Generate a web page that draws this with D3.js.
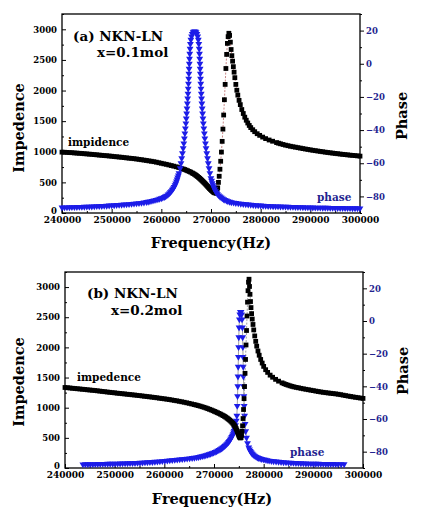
<!DOCTYPE html>
<html>
<head>
<meta charset="utf-8">
<script src="https://cdn.jsdelivr.net/npm/d3@7"></script>
<style>
  body { margin: 0; background: #fff; }
  text { font-family: "DejaVu Serif", serif; font-weight: bold; }
</style>
</head>
<body>
<svg id="chart" width="434" height="520"></svg>
<script>
// ---- data: [frequency Hz, value] ----
var impedenceA = [
  [240000,994],[240500,992],[241000,990],[241500,987],[242000,985],[242500,981],[243000,978],[243500,975],
  [244000,972],[244500,968],[245000,965],[245500,961],[246000,958],[246500,954],[247000,950],[247500,946],
  [248000,942],[248500,938],[249000,935],[249500,931],[250000,927],[250500,922],[251000,918],[251500,914],
  [252000,910],[252500,905],[253000,900],[253500,896],[254000,892],[254500,887],[255000,882],[255500,876],
  [256000,870],[256500,864],[257000,858],[257500,851],[258000,845],[258500,838],[259000,830],[259500,821],
  [260000,812],[260500,803],[261000,795],[261500,785],[262000,775],[262500,765],[263000,755],[263500,743],
  [264000,730],[264400,719],[264700,710],[265000,700],[265300,690],[265600,679],[265900,668],[266200,655],
  [266400,645],[266650,633],[266900,620],[267100,608],[267300,595],[267500,581],[267700,567],[267900,552],
  [268100,537],[268300,521],[268500,505],[268700,489],[268900,472],[269100,454],[269300,436],[269500,418],
  [269700,400],[269900,384],[270100,368],[270300,354],[270500,342],[270650,334],[270800,328],
  [271050,322],[271200,345],[271350,410],[271500,500],[271650,600],[271800,715],[271950,845],[272100,995],
  [272250,1170],[272400,1370],[272550,1600],[272700,1850],[272850,2100],[273000,2360],[273150,2590],
  [273300,2770],[273450,2880],[273600,2935],[273750,2900],[273900,2790],[274050,2670],[274200,2570],
  [274350,2480],[274500,2390],[274650,2300],[274800,2210],[275000,2100],[275200,2005],[275400,1925],
  [275650,1840],[275900,1770],[276200,1690],[276500,1625],[276800,1565],[277100,1515],[277400,1470],
  [277700,1430],[278000,1395],[278400,1360],[278800,1328],[279300,1295],[279800,1268],[280400,1240],
  [281000,1215],[281700,1192],[282400,1172],[283200,1150],[283600,1140],[284000,1130],[284500,1119],
  [285000,1108],[285500,1099],[286000,1090],[286500,1082],[287000,1075],[287500,1067],[288000,1060],
  [288500,1052],[289000,1045],[289500,1038],[290000,1031],[290500,1024],[291000,1018],[291500,1012],
  [292000,1006],[292500,1000],[293000,994],[293500,988],[294000,983],[294500,978],[295000,973],[295500,968],
  [296000,963],[296500,958],[297000,954],[297500,949],[298000,945],[298500,941],[299000,937],[299500,933],
  [300000,929]
];

var phaseA = [
  [240000,-86.7],[240500,-86.65],[241000,-86.6],[241500,-86.55],[242000,-86.5],[242500,-86.45],
  [243000,-86.4],[243500,-86.35],[244000,-86.3],[244500,-86.25],[245000,-86.2],[245500,-86.15],
  [246000,-86.1],[246500,-86.0],[247000,-85.9],[247500,-85.85],[248000,-85.8],[248500,-85.7],
  [249000,-85.6],[249500,-85.5],[250000,-85.4],[250500,-85.3],[251000,-85.2],[251500,-85.1],
  [252000,-85.0],[252500,-84.9],[253000,-84.8],[253500,-84.65],[254000,-84.5],[254500,-84.35],
  [255000,-84.2],[255500,-84.05],[256000,-83.9],[256500,-83.65],[257000,-83.4],[257350,-83.2],
  [257700,-83.0],[258100,-82.7],[258500,-82.4],[258900,-82.1],[259300,-81.8],[259650,-81.45],
  [260000,-81.1],[260300,-80.75],[260600,-80.4],[260850,-79.95],[261100,-79.5],[261350,-78.85],
  [261600,-78.2],[261800,-77.5],[262000,-76.8],[262200,-76.0],[262400,-75.2],[262570,-74.3],
  [262750,-73.3],[262900,-72.2],[263050,-71.0],[263180,-69.8],[263300,-68.5],[263430,-67.3],
  [263550,-66],[263800,-63],[263950,-60],[264100,-57],[264250,-54],
  [264400,-51],[264520,-48],[264640,-45],[264740,-42],[264840,-39],[264940,-36],[265020,-33],[265100,-30],
  [265170,-27],[265240,-24],[265300,-21],[265360,-18],[265410,-15],[265460,-12],[265510,-9],[265550,-6],
  [265590,-3],[265630,0],[265670,3],[265720,6],[265780,9],[265850,12],[265950,14.5],[266080,16.5],
  [266230,18],[266400,19],[266570,19.5],[266830,19.5],[267000,19],[267170,18],[267320,16.5],[267450,14.5],
  [267550,12],[267620,9],[267680,6],[267730,3],[267770,0],[267810,-3],[267850,-6],[267890,-9],[267940,-12],
  [267990,-15],[268040,-18],[268100,-21],[268160,-24],[268230,-27],[268300,-30],[268380,-33],[268460,-36],
  [268560,-39],[268660,-42],[268760,-45],[268880,-48],[269000,-51],[269150,-54],[269300,-57],[269450,-60],
  [269600,-63],[269780,-66],[269980,-69],[270120,-70.5],[270250,-72],[270400,-73.3],[270550,-74.5],
  [270720,-75.7],[270900,-76.8],[271100,-77.7],[271300,-78.6],[271550,-79.4],[271800,-80.1],
  [272050,-80.7],[272300,-81.2],[272550,-81.7],[272800,-82.1],[273100,-82.5],[273400,-82.9],
  [273750,-83.2],[274100,-83.5],[274550,-83.75],[275000,-84.0],[275500,-84.2],[276000,-84.4],
  [276500,-84.55],[277000,-84.7],[277500,-84.85],[278000,-85.0],[278500,-85.15],[279000,-85.3],
  [279500,-85.4],[280000,-85.5],[280500,-85.6],[281000,-85.7],[281500,-85.8],[282000,-85.9],
  [282500,-85.95],[283000,-86.0],[283500,-86.05],[284000,-86.1],[284500,-86.15],[285000,-86.2],
  [285500,-86.25],[286000,-86.3],[286500,-86.35],[287000,-86.4],[287500,-86.45],[288000,-86.5],
  [288500,-86.55],[289000,-86.6],[289500,-86.65],[290000,-86.7],[290500,-86.72],[291000,-86.75],
  [291500,-86.78],[292000,-86.8],[292500,-86.83],[293000,-86.85],[293500,-86.88],[294000,-86.9],
  [294500,-86.93],[295000,-86.95],[295500,-86.98],[296000,-87.0],[296500,-87.03],[297000,-87.05],
  [297500,-87.08],[298000,-87.1],[298500,-87.13],[299000,-87.15],[299500,-87.18],[300000,-87.2]
];

var impedenceB = [
  [240000,1335],[240500,1331],[241000,1327],[241500,1322],[242000,1318],[242500,1314],[243000,1310],
  [243500,1306],[244000,1302],[244500,1297],[245000,1293],[245500,1289],[246000,1285],[246500,1280],
  [247000,1275],[247500,1270],[248000,1265],[248500,1260],[249000,1255],[249500,1250],[250000,1246],
  [250500,1241],[251000,1237],[251500,1232],[252000,1228],[252500,1223],[253000,1219],[253500,1214],
  [254000,1210],[254500,1205],[255000,1200],[255500,1195],[256000,1190],[256500,1185],[257000,1180],
  [257500,1175],[258000,1170],[258500,1164],[259000,1158],[259500,1152],[260000,1147],[260500,1141],
  [261000,1135],[261500,1128],[262000,1121],[262500,1114],[263000,1106],[263500,1098],[264000,1090],
  [264500,1081],[265000,1072],[265500,1062],[266000,1052],[266400,1044],[266800,1035],[267200,1026],
  [267600,1016],[268000,1006],[268400,995],[268750,984],[269100,973],[269450,962],[269800,950],
  [270100,939],[270400,928],[270700,917],[271000,905],[271300,893],[271600,880],[271850,869],[272100,857],
  [272350,844],[272600,830],[272800,817],[273000,804],[273200,790],[273400,775],[273600,758],[273800,740],
  [273975,720],[274150,700],[274300,678],[274450,655],[274575,630],[274700,605],[274800,583],[274900,560],
  [275000,540],[275100,520],[275200,507],[275300,498],[275450,505],[275550,540],[275650,610],[275750,700],
  [275850,820],[275950,970],[276050,1150],[276150,1350],[276250,1570],[276350,1800],[276450,2040],
  [276550,2280],[276650,2520],[276750,2750],[276850,2940],[276950,3080],[277050,3130],[277150,3010],
  [277250,2880],[277350,2760],[277450,2660],[277570,2560],[277700,2470],[277850,2380],[278000,2290],
  [278200,2190],[278400,2100],[278600,2020],[278850,1940],[279100,1870],[279400,1800],[279700,1740],
  [280000,1685],[280400,1630],[280800,1585],[281300,1540],[281800,1505],[282400,1470],[283000,1440],
  [283700,1412],[284100,1398],[284500,1385],[284900,1374],[285300,1363],[285700,1354],[286100,1345],
  [286550,1337],[287000,1330],[287500,1321],[288000,1313],[288500,1305],[289000,1298],[289500,1290],
  [290000,1283],[290500,1275],[291000,1268],[291500,1261],[292000,1255],[292500,1249],[293000,1244],
  [293500,1239],[294000,1234],[294500,1229],[295000,1223],[295500,1216],[296000,1208],[296500,1200],
  [297000,1193],[297500,1186],[298000,1179],[298500,1172],[299000,1166],[299500,1160],[300000,1154]
];

var phaseB = [
  [243600,-87.8],[244100,-87.75],[244600,-87.7],[245100,-87.7],[245600,-87.7],[246100,-87.65],
  [246600,-87.6],[247100,-87.55],[247600,-87.5],[248100,-87.48],[248600,-87.45],[249100,-87.42],
  [249600,-87.4],[250100,-87.35],[250600,-87.3],[251100,-87.25],[251600,-87.2],[252100,-87.15],
  [252600,-87.1],[253100,-87.05],[253600,-87.0],[254100,-86.93],[254600,-86.85],[255100,-86.78],
  [255600,-86.7],[256100,-86.6],[256600,-86.5],[257100,-86.4],[257600,-86.3],[258100,-86.2],
  [258600,-86.1],[259100,-85.95],[259600,-85.8],[260100,-85.65],[260600,-85.5],[261100,-85.35],
  [261600,-85.2],[262100,-85.05],[262600,-84.9],[263100,-84.75],[263600,-84.6],[264100,-84.45],
  [264600,-84.3],[265100,-84.1],[265600,-83.9],[266050,-83.7],[266500,-83.5],[266900,-83.25],
  [267300,-83.0],[267650,-82.75],[268000,-82.5],[268350,-82.2],[268700,-81.9],[269000,-81.6],
  [269300,-81.3],[269600,-80.95],[269900,-80.6],[270200,-80.2],[270500,-79.8],[270750,-79.4],
  [271000,-79.0],[271250,-78.55],[271500,-78.1],[271725,-77.6],[271950,-77.1],[272150,-76.55],
  [272350,-76.0],[272550,-75.4],[272750,-74.8],[272925,-74.1],[273100,-73.4],[273250,-72.65],
  [273400,-71.9],[273550,-71.05],[273700,-70.2],[273825,-69.25],[273950,-68.3],[274050,-67.25],
  [274150,-66.2],[274330,-63.8],[274480,-61],
  [274600,-58],[274680,-52],[274740,-46],[274790,-40],[274830,-34],[274870,-28],[274910,-22],[274950,-16],
  [274990,-10],[275040,-4],[275110,1],[275200,4],[275320,5.5],[275440,5.5],[275560,4],[275650,1],
  [275720,-4],[275770,-10],[275810,-16],[275850,-22],[275890,-28],[275930,-34],[275970,-40],[276020,-46],
  [276080,-52],[276160,-58],[276260,-63],[276380,-67.5],[276550,-71.5],[276750,-74.8],[277000,-77.5],
  [277150,-78.6],[277300,-79.6],[277475,-80.4],[277650,-81.1],[277850,-81.7],[278050,-82.3],
  [278275,-82.75],[278500,-83.2],[278750,-83.55],[279000,-83.9],[279300,-84.2],[279600,-84.5],
  [279950,-84.75],[280300,-85.0],[280700,-85.25],[281100,-85.5],[281550,-85.7],[282000,-85.9],
  [282500,-86.05],[283000,-86.2],[283500,-86.35],[284000,-86.5],[284500,-86.6],[285000,-86.7],
  [285500,-86.8],[286000,-86.9],[286500,-86.98],[287000,-87.05],[287500,-87.13],[288000,-87.2],
  [288500,-87.25],[289000,-87.3],[289500,-87.35],[290000,-87.4],[290500,-87.43],[291000,-87.45],
  [291500,-87.48],[292000,-87.5],[292500,-87.53],[293000,-87.55],[293500,-87.58],[294000,-87.6],
  [294500,-87.63],[295000,-87.65],[295600,-87.68],[296200,-87.7]
];

var freqTicks = [240000, 250000, 260000, 270000, 280000, 290000, 300000];
var freqMinor = [245000, 255000, 265000, 275000, 285000, 295000];
var impTicks = [0, 500, 1000, 1500, 2000, 2500, 3000];
var impMinor = [250, 750, 1250, 1750, 2250, 2750, 3250];
var phaseTicks = [-80, -60, -40, -20, 0, 20];
var phaseMinor = [-90, -70, -50, -30, -10, 10, 30];

var svg = d3.select("#chart");
var navy = "#23238f";
var blue = "#1c1ce8";

var panels = [
  { imp: impedenceA, phase: phaseA, left: 62, right: 360, top: 14, bottom: 213,
    blueOnTop: true, impLine: "#b05050", phaseLine: "#4040c0",
    title: "(a) NKN-LN", titlePos: [73, 41], sub: "x=0.1mol", subPos: [97, 57],
    impLabel: "impidence", impLabelPos: [68, 146], phLabelPos: [317, 201],
    yTitle: [23.5, 128], y2Title: [407, 116], xTitle: [211, 248] },
  { imp: impedenceB, phase: phaseB, left: 65, right: 363, top: 272, bottom: 468,
    blueOnTop: false, impLine: "#777", phaseLine: "#777",
    title: "(b) NKN-LN", titlePos: [87, 298], sub: "x=0.2mol", subPos: [111, 315],
    impLabel: "impedence", impLabelPos: [77, 381], phLabelPos: [290, 456],
    yTitle: [23.5, 382], y2Title: [408, 371], xTitle: [212, 504] }
];

panels.forEach(drawPanel);

function drawPanel(p) {
  var x = d3.scaleLinear().domain([240000, 300000]).range([p.left, p.right]);
  var yI = d3.scaleLinear().domain([0, 3250]).range([p.bottom, p.top]);
  var yP = d3.scaleLinear().domain([-90, 30]).range([p.bottom, p.top]);
  var g = svg.append("g");

  /* axes */
  var ax = g.append("g").attr("transform", "translate(0," + p.bottom + ")")
    .call(d3.axisBottom(x).tickValues(freqTicks).tickSize(-4).tickPadding(4).tickFormat(d3.format("d")));
  g.append("g").attr("transform", "translate(0," + p.bottom + ")")
    .call(d3.axisBottom(x).tickValues(freqMinor).tickSize(-2).tickFormat(""));
  var ay = g.append("g").attr("transform", "translate(" + p.left + ",0)")
    .call(d3.axisLeft(yI).tickValues(impTicks).tickSize(-4).tickPadding(5).tickFormat(d3.format("d")));
  g.append("g").attr("transform", "translate(" + p.left + ",0)")
    .call(d3.axisLeft(yI).tickValues(impMinor).tickSize(-2).tickFormat(""));
  var ay2 = g.append("g").attr("transform", "translate(" + p.right + ",0)")
    .call(d3.axisRight(yP).tickValues(phaseTicks).tickSize(4).tickPadding(2));
  g.append("g").attr("transform", "translate(" + p.right + ",0)")
    .call(d3.axisRight(yP).tickValues(phaseMinor).tickSize(2).tickFormat(""));

  g.selectAll(".domain").remove();
  g.selectAll(".tick line").attr("stroke", "#000").attr("stroke-width", 1);
  ax.selectAll("text").attr("font-size", 9).attr("fill", "#000");
  ay.selectAll("text").attr("font-size", 8.5).attr("fill", "#000")
    .attr("dy", function(d) { return d === 0 ? "0.1em" : "0.32em"; });
  ay2.selectAll("text").attr("font-size", 8.5).attr("fill", navy);

  // frame
  g.append("rect")
    .attr("x", p.left).attr("y", p.top)
    .attr("width", p.right - p.left).attr("height", p.bottom - p.top)
    .attr("fill", "none").attr("stroke", "#000").attr("stroke-width", 1.3);

  /* series */
  var lineI = d3.line().x(function(d) { return x(d[0]); }).y(function(d) { return yI(d[1]); });
  var lineP = d3.line().x(function(d) { return x(d[0]); }).y(function(d) { return yP(d[1]); });

  function drawImp() {
    g.append("path").datum(p.imp).attr("d", lineI)
      .attr("fill", "none").attr("stroke", p.impLine).attr("stroke-width", 0.7)
      .attr("stroke-dasharray", "2,1.5");
    g.append("g").selectAll("path").data(p.imp).enter().append("path")
      .attr("d", d3.symbol(d3.symbolSquare, 23))
      .attr("transform", function(d) { return "translate(" + x(d[0]) + "," + yI(d[1]) + ")"; })
      .attr("fill", "#000");
  }
  function drawPhase() {
    g.append("path").datum(p.phase).attr("d", lineP)
      .attr("fill", "none").attr("stroke", p.phaseLine).attr("stroke-width", 0.7);
    g.append("g").selectAll("path").data(p.phase).enter().append("path")
      .attr("d", d3.symbol(d3.symbolTriangle, 20))
      .attr("transform", function(d) { return "translate(" + x(d[0]) + "," + yP(d[1]) + ") rotate(180)"; })
      .attr("fill", blue);
  }
  if (p.blueOnTop) { drawImp(); drawPhase(); } else { drawPhase(); drawImp(); }

  /* texts */
  g.append("text").attr("x", p.titlePos[0]).attr("y", p.titlePos[1])
    .attr("font-size", 13.5).text(p.title);
  g.append("text").attr("x", p.subPos[0]).attr("y", p.subPos[1])
    .attr("font-size", 13.5).text(p.sub);
  g.append("text").attr("x", p.impLabelPos[0]).attr("y", p.impLabelPos[1])
    .attr("font-size", 10.5).text(p.impLabel);
  g.append("text").attr("x", p.phLabelPos[0]).attr("y", p.phLabelPos[1])
    .attr("font-size", 10.5).attr("fill", navy).text("phase");

  g.append("text").attr("transform", "translate(" + p.yTitle[0] + "," + p.yTitle[1] + ") rotate(-90)")
    .attr("text-anchor", "middle").attr("font-size", 14.5).text("Impedence");
  g.append("text").attr("transform", "translate(" + p.y2Title[0] + "," + p.y2Title[1] + ") rotate(-90)")
    .attr("text-anchor", "middle").attr("font-size", 14.5).text("Phase");
  g.append("text").attr("x", p.xTitle[0]).attr("y", p.xTitle[1])
    .attr("text-anchor", "middle").attr("font-size", 14.5).text("Frequency(Hz)");
}
</script>
</body>
</html>
